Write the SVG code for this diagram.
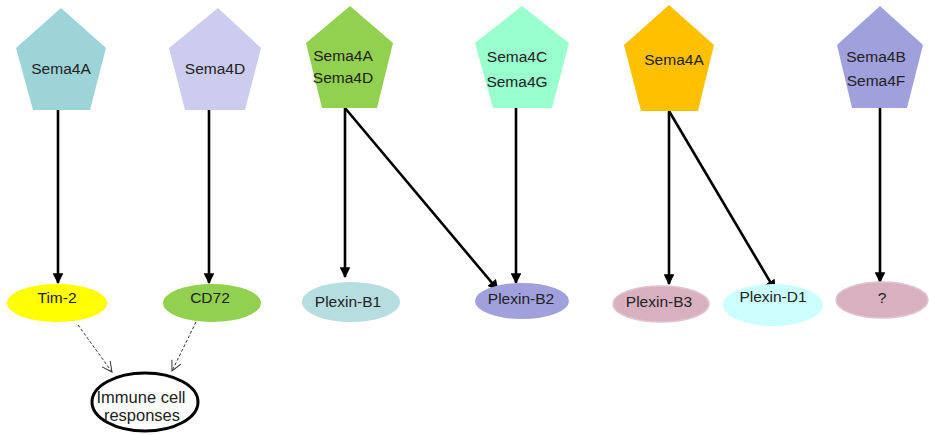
<svg xmlns="http://www.w3.org/2000/svg" width="929" height="435" viewBox="0 0 929 435">
<defs>
<style>
text{font-family:"Liberation Sans",Arial,sans-serif;font-size:15.5px;fill:#222;text-anchor:middle}
.big{font-size:16.5px}
.sol{stroke:#000;stroke-width:2.6;fill:none}
.dash{stroke:#333;stroke-width:1;stroke-dasharray:3,2;fill:none}
</style>
<marker id="ah" viewBox="0 0 10 10" refX="9" refY="5" markerWidth="4.2" markerHeight="4.2" orient="auto" markerUnits="strokeWidth">
<path d="M0,0 L10,5 L0,10 z" fill="#000"/>
</marker>
<marker id="oh" viewBox="0 0 12 12" refX="11" refY="6" markerWidth="12" markerHeight="12" orient="auto" markerUnits="userSpaceOnUse">
<path d="M1,1 L11,6 L1,11" fill="none" stroke="#333" stroke-width="1"/>
</marker>
</defs>
<rect width="929" height="435" fill="#fff"/>

<g id="connectors">
<line class="sol" x1="58" y1="110" x2="58" y2="283" marker-end="url(#ah)"/>
<line class="sol" x1="209" y1="110" x2="209" y2="283" marker-end="url(#ah)"/>
<line class="sol" x1="345" y1="108" x2="345" y2="277" marker-end="url(#ah)"/>
<line class="sol" x1="345" y1="108" x2="498" y2="290" marker-end="url(#ah)"/>
<line class="sol" x1="516" y1="108" x2="516" y2="283" marker-end="url(#ah)"/>
<line class="sol" x1="669" y1="111" x2="669" y2="284" marker-end="url(#ah)"/>
<line class="sol" x1="669" y1="111" x2="775" y2="290" marker-end="url(#ah)"/>
<line class="sol" x1="880" y1="108" x2="880" y2="282" marker-end="url(#ah)"/>
<line class="dash" x1="78" y1="325" x2="112" y2="372" marker-end="url(#oh)"/>
<line class="dash" x1="196" y1="322" x2="172" y2="371" marker-end="url(#oh)"/>
</g>

<g id="sema4a-1">
<polygon points="61,8 106,48 90,110 33,110 16,48" fill="#9dd4d8"/>
<text x="61" y="74">Sema4A</text>
</g>
<g id="sema4d-1">
<polygon points="218,8 261,48 245,110 185,110 169,48" fill="#ccccee"/>
<text x="215" y="74">Sema4D</text>
</g>
<g id="sema4a-4d">
<polygon points="350,6 393,43 377,108 322,108 306,43" fill="#92d050"/>
<text x="343" y="61">Sema4A</text>
<text x="343" y="83">Sema4D</text>
</g>
<g id="sema4c-4g">
<polygon points="522,6 569,43 552,108 493,108 475,43" fill="#99ffcc"/>
<text x="517" y="62">Sema4C</text>
<text x="517" y="87">Sema4G</text>
</g>
<g id="sema4a-2">
<polygon points="669,5 714,45 698,111 641,111 624,45" fill="#ffc000"/>
<text x="674" y="65">Sema4A</text>
</g>
<g id="sema4b-4f">
<polygon points="880,6 923,45 907,108 852,108 837,45" fill="#a0a0dc"/>
<text x="876" y="62">Sema4B</text>
<text x="876" y="86">Sema4F</text>
</g>

<g id="tim2">
<ellipse cx="57" cy="303" rx="50" ry="19" fill="#ffff00"/>
<text x="57" y="303">Tim-2</text>
</g>
<g id="cd72">
<ellipse cx="212" cy="303" rx="49" ry="19" fill="#92d050"/>
<text x="210" y="303">CD72</text>
</g>
<g id="immune">
<ellipse cx="145" cy="402" rx="53" ry="29" fill="#fff" stroke="#000" stroke-width="3"/>
<text class="big" x="141" y="403">Immune cell</text>
<text class="big" x="142" y="421">responses</text>
</g>
<g id="plexin-b1">
<ellipse cx="351" cy="302" rx="49" ry="20" fill="#b6dde0"/>
<text x="348" y="307">Plexin-B1</text>
</g>
<g id="plexin-b2">
<ellipse cx="522" cy="301" rx="47" ry="18" fill="#a0a0dc"/>
<text x="521" y="304">Plexin-B2</text>
</g>
<g id="plexin-b3">
<ellipse cx="661" cy="304" rx="48" ry="18" fill="#d8b0c0" stroke="#e0c4d0" stroke-width="1.5"/>
<text x="659" y="307">Plexin-B3</text>
</g>
<g id="plexin-d1">
<ellipse cx="773" cy="305" rx="50" ry="21" fill="#ccffff"/>
<text x="773" y="302">Plexin-D1</text>
</g>
<g id="unknown">
<ellipse cx="882" cy="300" rx="46" ry="18" fill="#d8b0c0" stroke="#e0c4d0" stroke-width="1.5"/>
<text x="882" y="303">?</text>
</g>
</svg>
